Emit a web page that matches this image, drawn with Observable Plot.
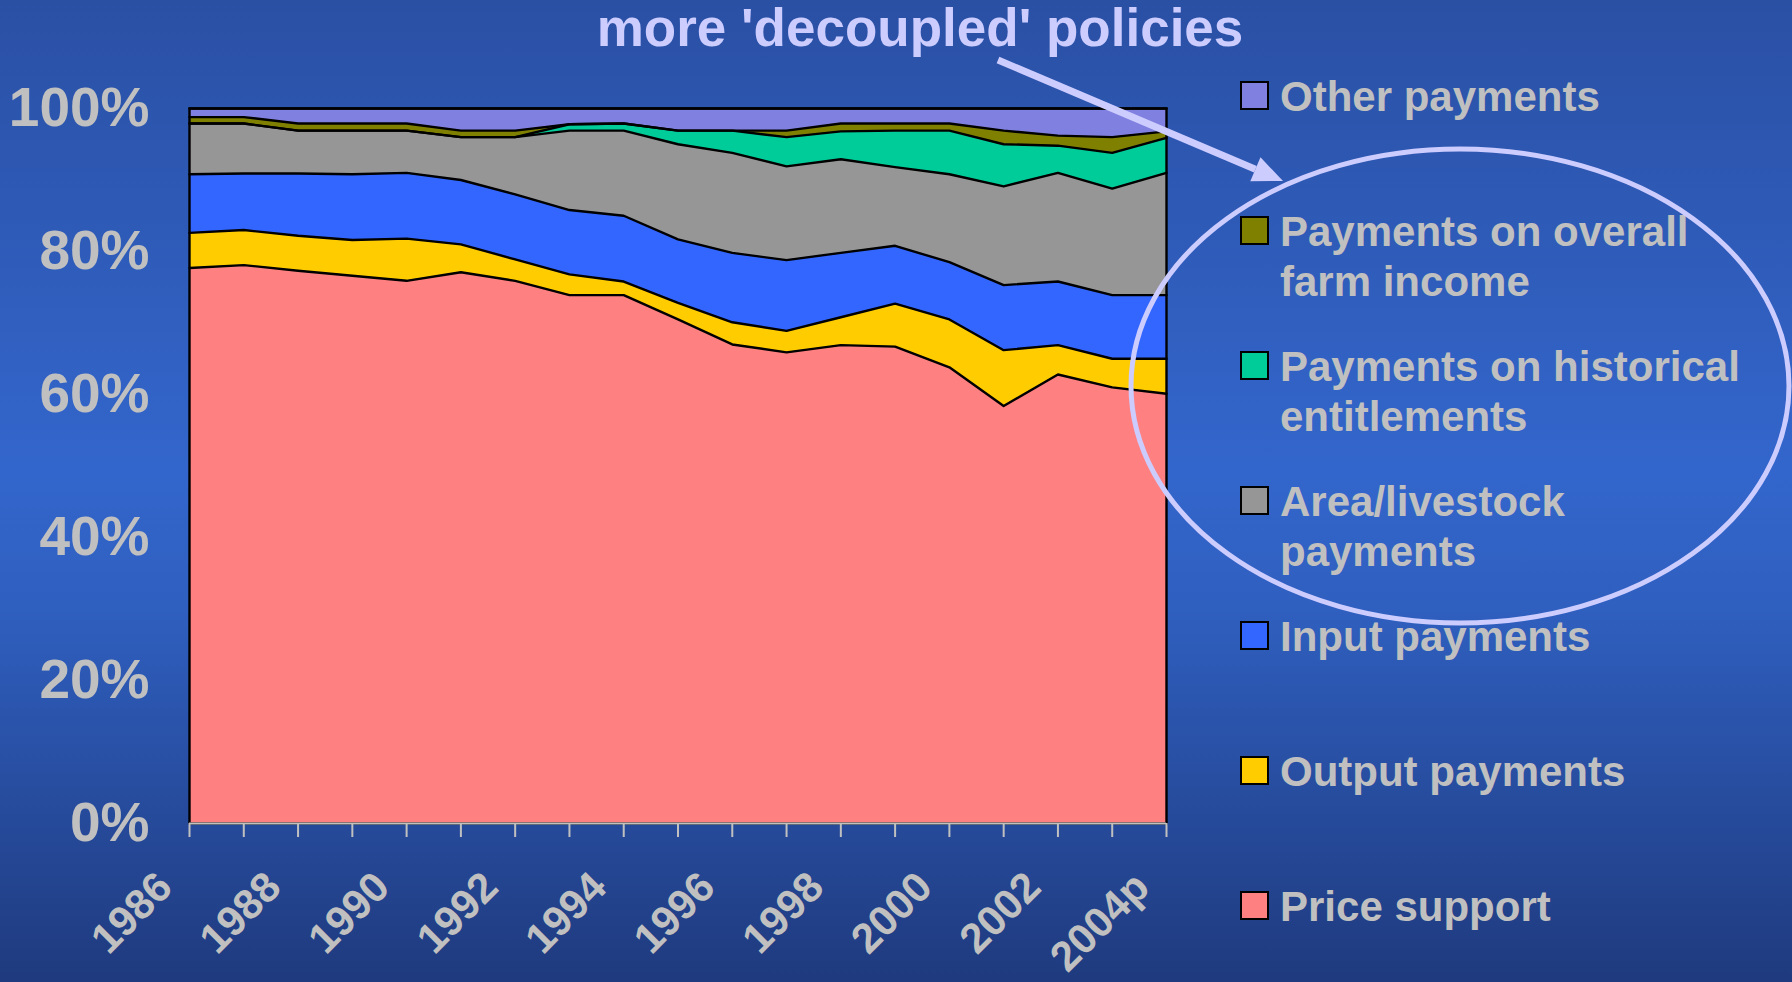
<!DOCTYPE html>
<html>
<head>
<meta charset="utf-8">
<script src="https://cdn.jsdelivr.net/npm/d3@7"></script>
<script src="https://cdn.jsdelivr.net/npm/@observablehq/plot@0.6"></script>
<style>
  html, body { margin: 0; padding: 0; }
  body { width: 1792px; height: 982px; overflow: hidden; }
  #page {
    position: relative; width: 1792px; height: 982px;
    background: linear-gradient(to bottom, #2a50a4 0%, #3366cc 48%, #2f5fbf 62%, #1f3a7e 100%);
    font-family: "Liberation Sans", Arial, sans-serif; font-weight: bold;
  }
  #chart { position: absolute; left: 0; top: 0; }
  #title {
    position: absolute; left: 0; width: 1840px; top: -2px; text-align: center;
    font-size: 53px; color: #ccccff; line-height: 60px; white-space: nowrap;
  }
  .leg { position: absolute; left: 1240px; font-size: 42px; line-height: 50px; color: #c0c0c0; white-space: nowrap; }
  .leg .sw { position: absolute; left: 0; top: 9px; width: 25px; height: 25px; border: 2px solid #000; }
  .leg .tx { position: absolute; left: 40px; top: 0; }
  #overlay { position: absolute; left: 0; top: 0; pointer-events: none; }
</style>
</head>
<body>
<div id="page">
  <div id="chart"></div>
  <div id="title"></div>
  <div id="legend"></div>
  <svg id="overlay" width="1792" height="982"></svg>
</div>
<script>
// ---- data (shares of support, %) ----
const years = [1986,1987,1988,1989,1990,1991,1992,1993,1994,1995,1996,1997,1998,1999,2000,2001,2002,2003,2004];
const tickYears = [1986,1988,1990,1992,1994,1996,1998,2000,2002,2004];
const tickLabels = ["1986","1988","1990","1992","1994","1996","1998","2000","2002","2004p"];
const yTicks = [0,20,40,60,80,100];

const seriesNames = ["Price support","Output payments","Input payments","Area/livestock payments","Payments on historical entitlements","Payments on overall farm income","Other payments"];
const legendLines = [["Price support"],["Output payments"],["Input payments"],["Area/livestock","payments"],["Payments on historical","entitlements"],["Payments on overall","farm income"],["Other payments"]];
const seriesColors = ["#ff8080","#ffcc00","#3366ff","#969696","#00cc99","#808000","#8080e0"];

const priceSupport = [77.7,78.1,77.3,76.6,75.9,77.1,75.9,73.9,73.9,70.5,67.0,65.9,66.9,66.7,63.8,58.4,62.8,61.0,60.1];
const outputPay    = [4.9,4.9,4.9,5.0,5.9,3.9,3.0,2.9,1.9,2.3,3.1,3.0,3.9,6.0,6.7,7.8,4.1,4.0,4.9];
const inputPay     = [8.2,7.9,8.7,9.2,9.2,9.0,9.1,9.0,9.2,8.9,9.7,9.9,9.0,8.1,8.0,9.1,8.9,8.9,8.9];
const areaPay      = [7.1,7.0,6.0,6.1,5.9,6.0,8.0,11.1,11.9,13.3,14.0,13.1,13.1,11.0,12.3,13.8,15.2,14.9,17.1];
const historical   = [0,0,0,0,0,0,0,0.9,1.0,1.9,3.1,4.1,3.9,5.1,6.1,5.9,3.8,5.0,4.9];
const overallIncome= [0.9,0.9,1.0,1.0,1.0,0.9,0.9,0,0,0,0,0.9,1.1,1.0,1.0,1.9,1.4,2.2,0.9];
const otherPay     = [1.2,1.2,2.1,2.1,2.1,3.1,3.1,2.2,2.1,3.1,3.1,3.1,2.1,2.1,2.1,3.1,3.8,4.0,3.2];

const seriesValues = [priceSupport,outputPay,inputPay,areaPay,historical,overallIncome,otherPay];

// ---- build table ----
const table = [];
seriesNames.forEach((name, s) => {
  years.forEach((yr, i) => table.push({year: yr, series: name, value: seriesValues[s][i]}));
});

const W = 1200, H = 982;
const chart = Plot.plot({
  width: W, height: H,
  marginLeft: 189, marginRight: W - 1166, marginTop: 108, marginBottom: H - 823,
  style: {background: "transparent", fontFamily: "'Liberation Sans', Arial, sans-serif", fontWeight: "bold", overflow: "visible"},
  x: {type: "linear", domain: [1986, 2004]},
  y: {domain: [0, 100]},
  color: {domain: seriesNames, range: seriesColors},
  marks: [
    Plot.areaY(table, Plot.stackY({
      x: "year", y: "value", z: "series", fill: "series", order: seriesNames
    })),
    Plot.lineY(table, Plot.stackY2({
      x: "year", y: "value", z: "series", order: seriesNames,
      stroke: "#000", strokeWidth: 2.4
    })),
    Plot.frame({stroke: "#000", strokeWidth: 2.4}),
    Plot.ruleY([0], {stroke: "#c0c0c0", strokeWidth: 2}),
    Plot.axisX({ticks: years, tickSize: 14, fill: "none", stroke: "#c0c0c0", strokeWidth: 2, label: null}),
    Plot.axisX({
      ticks: tickYears, tickSize: 0, tickPadding: 45, tickRotate: -45,
      tickFormat: d => tickLabels[tickYears.indexOf(d)],
      textAnchor: "end", lineAnchor: "top", dx: -36,
      fill: "#c0c0c0", fontSize: 42, fontWeight: "bold", label: null
    }),
    Plot.axisY({
      ticks: yTicks, tickSize: 0, tickPadding: 40,
      tickFormat: d => d + "%", fill: "#c0c0c0", fontSize: 55, fontWeight: "bold", label: null
    })
  ]
});
document.getElementById("chart").appendChild(chart);

// ---- title ----
document.getElementById("title").textContent = "more 'decoupled' policies";

// ---- legend (top entry = top of stack) ----
const leg = document.getElementById("legend");
const order = [6,5,4,3,2,1,0];
order.forEach((s, k) => {
  const d = document.createElement("div");
  d.className = "leg";
  d.style.top = (72 + k * 135) + "px";
  const sw = document.createElement("div");
  sw.className = "sw"; sw.style.background = seriesColors[s];
  const tx = document.createElement("div");
  tx.className = "tx"; tx.innerHTML = legendLines[s].join("<br>");
  d.appendChild(sw); d.appendChild(tx);
  leg.appendChild(d);
});

// ---- annotation: arrow and ellipse ----
const ov = d3.select("#overlay");
ov.append("ellipse").attr("cx", 1460).attr("cy", 386).attr("rx", 329).attr("ry", 237)
  .attr("fill", "none").attr("stroke", "#ccccff").attr("stroke-width", 5);
const x0 = 998, y0 = 60, x1 = 1283, y1 = 181;
const ang = Math.atan2(y1 - y0, x1 - x0);
const hl = 30, hw = 13;
const bx = x1 - hl * Math.cos(ang), by = y1 - hl * Math.sin(ang);
ov.append("line").attr("x1", x0).attr("y1", y0).attr("x2", bx).attr("y2", by)
  .attr("stroke", "#ccccff").attr("stroke-width", 7);
ov.append("path").attr("d",
  `M${x1},${y1} L${bx - hw*Math.sin(ang)},${by + hw*Math.cos(ang)} L${bx + hw*Math.sin(ang)},${by - hw*Math.cos(ang)} Z`)
  .attr("fill", "#ccccff");
</script>
</body>
</html>
